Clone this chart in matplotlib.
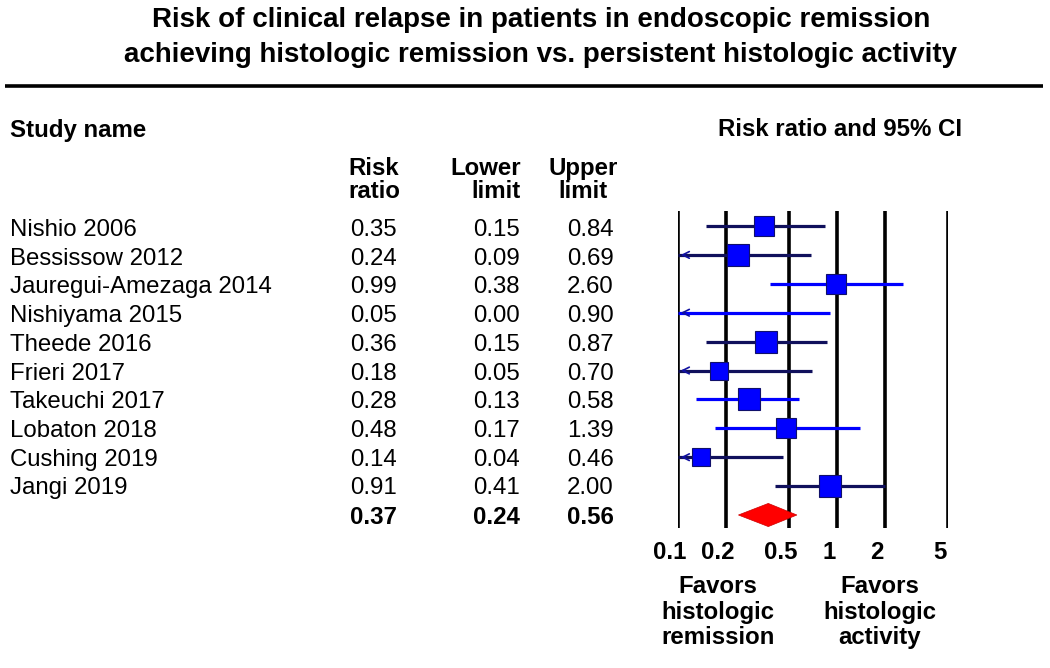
import matplotlib
matplotlib.use('Agg')
import matplotlib.pyplot as plt
import matplotlib.transforms as mtransforms
import numpy as np

studies = ['Nishio 2006', 'Bessissow 2012', 'Jauregui-Amezaga 2014', 'Nishiyama 2015',
           'Theede 2016', 'Frieri 2017', 'Takeuchi 2017', 'Lobaton 2018',
           'Cushing 2019', 'Jangi 2019']
risk_ratio = [0.35, 0.24, 0.99, 0.05, 0.36, 0.18, 0.28, 0.48, 0.14, 0.91]
lower = [0.15, 0.09, 0.38, 0.00, 0.15, 0.05, 0.13, 0.17, 0.04, 0.41]
upper = [0.84, 0.69, 2.60, 0.90, 0.87, 0.70, 0.58, 1.39, 0.46, 2.00]
weights = [11.2, 12.3, 11.2, 0.3, 12.3, 8.3, 13.5, 11.2, 7.4, 12.3]
pooled = (0.37, 0.24, 0.56)
ticks = [0.1, 0.2, 0.5, 1, 2, 5]

# which CI lines are drawn dark vs bright blue
dark_line = [True, True, False, False, True, True, False, False, True, True]

W, H = 1050, 668
plt.rcParams['font.family'] = ['Liberation Sans', 'DejaVu Sans']
fig = plt.figure(figsize=(W / 100, H / 100), dpi=100)

# full-figure overlay in pixel coords for text
bg = fig.add_axes([0, 0, 1, 1])
bg.set_xlim(0, W)
bg.set_ylim(H, 0)
bg.axis('off')

bg.text(541, 27, 'Risk of clinical relapse in patients in endoscopic remission',
        ha='center', va='baseline', fontsize=20, fontweight='bold')
bg.text(541, 62, 'achieving histologic remission vs. persistent histologic activity',
        ha='center', va='baseline', fontsize=20, fontweight='bold')
bg.plot([5, 1043], [86, 86], color='black', lw=2.6, solid_capstyle='butt')

fs = 17.3
bg.text(10, 130, 'Study name', ha='left', va='center', fontsize=fs, fontweight='bold')
bg.text(962, 130, 'Risk ratio and 95% CI', ha='right', va='center', fontsize=fs, fontweight='bold')
bg.text(348, 180, 'Risk\nratio', ha='left', va='center', fontsize=fs, fontweight='bold',
        linespacing=1.05)
bg.text(521, 180, 'Lower\nlimit', ha='right', va='center', fontsize=fs, fontweight='bold',
        linespacing=1.05, multialignment='right')
bg.text(583, 180, 'Upper\nlimit', ha='center', va='center', fontsize=fs, fontweight='bold',
        linespacing=1.05)

row0, step = 230, 28.7
for i, name in enumerate(studies):
    y = row0 + i * step
    bg.text(10, y, name, ha='left', va='center', fontsize=fs)
    bg.text(397, y, f'{risk_ratio[i]:.2f}', ha='right', va='center', fontsize=fs)
    bg.text(520, y, f'{lower[i]:.2f}', ha='right', va='center', fontsize=fs)
    bg.text(614, y, f'{upper[i]:.2f}', ha='right', va='center', fontsize=fs)
y = row0 + len(studies) * step
for x, v in zip([397, 520, 614], pooled):
    bg.text(x, y, f'{v:.2f}', ha='right', va='center', fontsize=fs, fontweight='bold')

bg.text(718, 612, 'Favors\nhistologic\nremission', ha='center', va='center',
        fontsize=fs, fontweight='bold', linespacing=1.15)
bg.text(880, 612, 'Favors\nhistologic\nactivity', ha='center', va='center',
        fontsize=fs, fontweight='bold', linespacing=1.15)

# forest axes: x from 678 to 948 px, y from 211 to 528 px
x0, x1, ytop, ybot = 678, 948, 211, 528
ax = fig.add_axes([x0 / W, 1 - ybot / H, (x1 - x0) / W, (ybot - ytop) / H])
ax.set_xscale('log')
ax.set_xlim(0.1, 5)
n = len(studies)
# row i center at pixel 226 + 28.9*i
ax.set_ylim((ybot - 226) / 28.9, (ytop - 226) / 28.9)
ax.patch.set_alpha(0)
for s in ax.spines.values():
    s.set_visible(False)
ax.tick_params(left=False, labelleft=False, bottom=False)
ax.set_xticks(ticks)
ax.set_xticklabels([f'{t:g}' for t in ticks], fontsize=fs, fontweight='bold')
ax.xaxis.set_minor_locator(matplotlib.ticker.NullLocator())
ax.tick_params(axis='x', pad=6)
offset = mtransforms.ScaledTranslation(-8 / 100, 0, fig.dpi_scale_trans)
for lab in ax.get_xticklabels():
    lab.set_transform(lab.get_transform() + offset)

for t in ticks:
    ax.axvline(t, color='black', lw=2.6, zorder=1)

for i in range(n):
    col = '#10105c' if dark_line[i] else '#0000ff'
    lo = max(lower[i], 0.1)
    ax.plot([lo, upper[i]], [i, i], color=col, lw=2.3, zorder=2, solid_capstyle='butt')
    if lower[i] < 0.1:
        ax.annotate('', xy=(0.1, i), xytext=(0.115, i),
                    arrowprops=dict(arrowstyle='->', color='#1010a0', lw=1.2,
                                    mutation_scale=12))
    ax.plot(risk_ratio[i], i, marker='s', color='#0000ff', mec='#10106a', mew=0.8,
            ms=4.5 * np.sqrt(weights[i]), zorder=3)

est, lo, hi = pooled
yd = n
ax.fill([lo, est, hi, est], [yd, yd - 0.4, yd, yd + 0.4], color='#ff0000',
        ec='#cc0000', lw=0.5, zorder=3)

fig.savefig('out.png', dpi=100)
